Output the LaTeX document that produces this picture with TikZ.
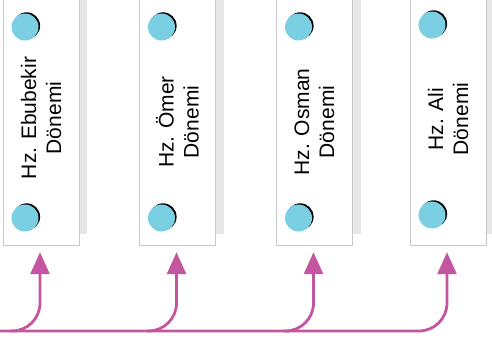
\documentclass[tikz,border=0pt]{standalone}
\usepackage{fontspec}
\setmainfont{Liberation Sans}
\usetikzlibrary{positioning,shadows,arrows.meta}
\definecolor{flowpink}{HTML}{C455A0}
\definecolor{dotblue}{HTML}{7ACFE3}
\definecolor{cardline}{HTML}{C8C8C8}
\definecolor{cardshade}{HTML}{E6E7E8}
\tikzset{
  card/.style={rectangle, draw=cardline, fill=white, minimum width=76pt, minimum height=250pt,
    general shadow={fill=cardshade, shadow xshift=8pt, shadow yshift=11pt}},
  dot/.style={circle, fill=dotblue, minimum size=27pt, inner sep=0pt,
    general shadow={fill=black, shadow xshift=1.6pt, shadow yshift=1.2pt}},
  era/.style={rotate=90, align=center, font=\fontsize{21}{25}\selectfont},
  flow/.style={draw=flowpink, line width=2.8pt, rounded corners=28pt, -{Triangle[width=19pt,length=22pt]}}
}
\begin{document}
\begin{tikzpicture}[x=1pt, y=-1pt]
  \useasboundingbox (0,0) rectangle (492,346);
  \node [card] (card1) at (41,120) {};
  \node [card] (card2) at (177.5,120) {};
  \node [card] (card3) at (314.5,120) {};
  \node [card] (card4) at (448,120) {};
%  dots
  \node [dot] (top1) at (25,27) {};
  \node [dot] (bot1) at (25,218) {};
  \node [dot] (top2) at (161.5,27) {};
  \node [dot] (bot2) at (161.5,218) {};
  \node [dot] (top3) at (298.5,27) {};
  \node [dot] (bot3) at (298.5,218) {};
  \node [dot] (top4) at (432,25) {};
  \node [dot] (bot4) at (432,215) {};
%  labels
  \node [era] (name1) at (41,118) {Hz. Ebubekir\\Dönemi};
  \node [era] (name2) at (177.5,122) {Hz. Ömer\\Dönemi};
  \node [era] (name3) at (314.5,122) {Hz. Osman\\Dönemi};
  \node [era] (name4) at (448,119) {Hz. Ali\\Dönemi};
%  arrows
  \coordinate (start) at (0,331);
  \draw [flow] (start) -| ([xshift=-1pt, yshift=-7pt]card4.south);
  \draw [flow] ([xshift=-31pt]card1.south |- start) -| ([xshift=-1pt, yshift=-7pt]card1.south);
  \draw [flow] ([xshift=-31pt]card2.south |- start) -| ([xshift=-1pt, yshift=-7pt]card2.south);
  \draw [flow] ([xshift=-31pt]card3.south |- start) -| ([xshift=-1pt, yshift=-7pt]card3.south);
\end{tikzpicture}
\end{document}
